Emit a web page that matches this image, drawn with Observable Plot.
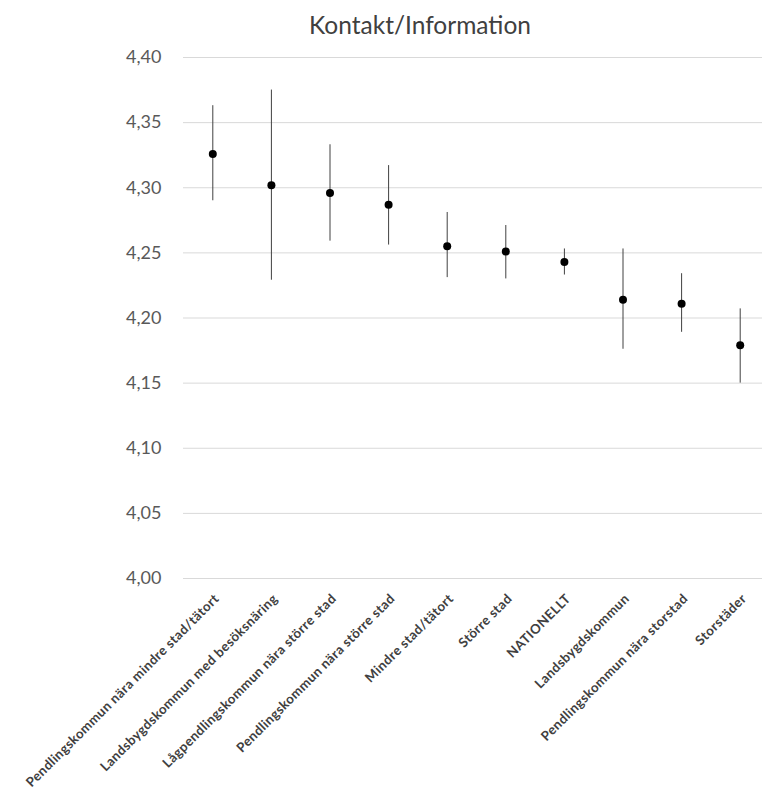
<!DOCTYPE html>
<html>
<head>
<meta charset="utf-8">
<script src="https://cdn.jsdelivr.net/npm/d3@7"></script>
<script src="https://cdn.jsdelivr.net/npm/@observablehq/plot@0.6"></script>
<style>
  html, body { margin: 0; padding: 0; background: #fff; overflow: hidden; }
  #title { width: 762px; height: 44px; box-sizing: border-box; padding-left: 78px; text-align: center;
           font-family: Lato, "Open Sans", sans-serif; font-size: 24.5px; color: #404040; line-height: 49px; }
  #chart text[transform*="rotate"] { letter-spacing: 0.45px; }
</style>
</head>
<body>
<div id="title">Kontakt/Information</div>
<div id="chart"></div>
<script>
const categories = [
  "Pendlingskommun nära mindre stad/tätort",
  "Landsbygdskommun med besöksnäring",
  "Lågpendlingskommun nära större stad",
  "Pendlingskommun nära större stad",
  "Mindre stad/tätort",
  "Större stad",
  "NATIONELLT",
  "Landsbygdskommun",
  "Pendlingskommun nära storstad",
  "Storstäder"
];
const means = [4.326, 4.302, 4.296, 4.287, 4.255, 4.251, 4.243, 4.214, 4.211, 4.179];
const lower = [4.290, 4.229, 4.259, 4.256, 4.231, 4.230, 4.233, 4.176, 4.189, 4.150];
const upper = [4.363, 4.375, 4.333, 4.317, 4.281, 4.271, 4.253, 4.253, 4.234, 4.207];
const yTicks = [4.00, 4.05, 4.10, 4.15, 4.20, 4.25, 4.30, 4.35, 4.40];

const data = categories.map((c, i) => ({cat: c, mean: means[i], lo: lower[i], hi: upper[i]}));
const fmt = v => v.toFixed(2).replace(".", ",");

const chart = Plot.plot({
  width: 762,
  height: 752,
  marginTop: 13,
  marginBottom: 218,
  marginLeft: 183,
  marginRight: 0,
  style: {fontFamily: "Lato, 'Open Sans', sans-serif", background: "#fff"},
  x: {type: "point", domain: categories, range: [183, 769], padding: 0.5, round: false, axis: null},
  y: {domain: [4.0, 4.4], axis: null},
  marks: [
    Plot.ruleY(yTicks, {stroke: "#d9d9d9", strokeWidth: 1}),
    Plot.axisY(yTicks, {tickSize: 0, tickPadding: 22, tickFormat: fmt, fontSize: 18, fill: "#595959", stroke: null}),
    Plot.ruleX(data, {x: "cat", y1: "lo", y2: "hi", stroke: "#404040", strokeWidth: 1}),
    Plot.dot(data, {x: "cat", y: "mean", r: 4, fill: "#000", stroke: null}),
    Plot.text(categories, {x: d => d, frameAnchor: "bottom", dx: 4, dy: 18, rotate: -45,
      textAnchor: "end", lineAnchor: "middle", fontSize: 13.2, fontWeight: "bold", fill: "#404040"})
  ]
});
document.getElementById("chart").appendChild(chart);
</script>
</body>
</html>
